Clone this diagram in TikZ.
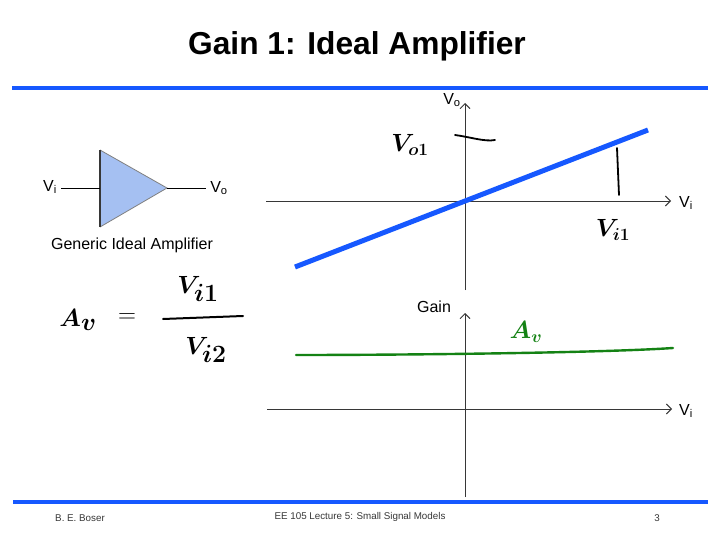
\documentclass[tikz,border=0pt]{standalone}
\usepackage{fontspec}
\setmainfont{Liberation Sans}
\usetikzlibrary{arrows.meta}
\definecolor{slideblue}{RGB}{22,88,255}
\definecolor{ampfill}{RGB}{165,192,242}
\definecolor{hgreen}{RGB}{20,130,20}
\definecolor{axisgray}{RGB}{55,55,55}
\begin{document}
\begin{tikzpicture}[x=1pt,y=-1pt,
  rule/.style={slideblue,line width=4pt},
  axis/.style={axisgray,line width=0.9pt,-{Straight Barb[length=5pt,width=10pt]}},
  lbl/.style={font=\fontsize{16}{19}\selectfont,inner sep=0pt},
  foot/.style={font=\fontsize{9.8}{12}\selectfont,inner sep=0pt,text=axisgray},
  hand/.style={font=\fontsize{24}{28}\selectfont\boldmath,inner sep=0pt},
  big/.style={font=\fontsize{36}{42}\selectfont\boldmath,inner sep=0pt},
  wire/.style={black,line width=0.9pt},
  stroke/.style={black,line width=1.8pt,line cap=round}]
\useasboundingbox[fill=white] (0,0) rectangle (720,540);
% title and rules
\node[font=\fontsize{31.7}{38}\selectfont\bfseries,inner sep=0pt] (title) at (357,46) {Gain 1: Ideal Amplifier};
\coordinate (tl) at (12,88); \coordinate (tr) at (708,88);
\draw[rule] (tl) -- (tr);
\coordinate (bl) at (13,502); \coordinate (br) at (708,502);
\draw[rule] (bl) -- (br);
% footer
\node[foot] (auth) at (80,518) {B. E. Boser};
\node[foot] (course) at (360,517) {EE 105 Lecture 5: Small Signal Models};
\node[foot] (page) at (657,518) {3};
% amplifier
\coordinate (a1) at (100,150); \coordinate (a2) at (100,227); \coordinate (a3) at (167,188);
\fill[ampfill] (a1) -- (a3) -- (a2) -- cycle;
\draw[gray,line width=0.8pt] (a1) -- (a3) -- (a2);
\draw[axisgray,line width=1.6pt] (a1) -- (a2);
\coordinate (in) at (61,188); \coordinate (ampin) at (100,188);
\coordinate (out) at (206,188);
\draw[wire] (in) -- (ampin);
\draw[wire] (a3) -- (out);
\node[lbl] (vi) at (50,187) {V\textsubscript{i}};
\node[lbl] (vo) at (219,188) {V\textsubscript{o}};
\node[lbl] (gen) at (132,245) {Generic Ideal Amplifier};
% equation
\node[big] (av) at (78,320) {$A_v$};
\node[font=\fontsize{34}{40}\selectfont,inner sep=0pt] (eqs) at (127,318) {$=$};
\node[big] (num) at (198,289) {$V_{i1}$};
\node[big] (den) at (206,350) {$V_{i2}$};
\coordinate (fb1) at (163,319); \coordinate (fb2) at (243,316);
\draw[black,line width=2pt,line cap=round] (fb1) -- (fb2);
% upper plot
\coordinate (xl1) at (266,201); \coordinate (xr1) at (671,201);
\coordinate (yb1) at (465,290); \coordinate (yt1) at (465,103);
\draw[axis] (xl1) -- (xr1);
\draw[axis] (yb1) -- (yt1);
\node[lbl] (vo1) at (452,100) {V\textsubscript{o}};
\node[lbl] (vi1) at (686,203) {V\textsubscript{i}};
\coordinate (bs) at (295,267); \coordinate (be) at (648,130);
\draw[slideblue,line width=5pt] (bs) -- (be);
\coordinate (t1s) at (455,135); \coordinate (t1e) at (495,140);
\draw[stroke] (t1s) .. controls (470,137) and (485,142) .. (t1e);
\coordinate (t2s) at (617,148); \coordinate (t2e) at (619,195);
\draw[stroke] (t2s) -- (t2e);
\node[hand] (hvo) at (410,145) {$V_{o1}$};
\node[hand] (hvi) at (613,230) {$V_{i1}$};
% lower plot
\coordinate (xl2) at (267,409); \coordinate (xr2) at (672,409);
\coordinate (yb2) at (465,497); \coordinate (yt2) at (465,313);
\draw[axis] (xl2) -- (xr2);
\draw[axis] (yb2) -- (yt2);
\node[lbl] (gain) at (434,307) {Gain};
\node[lbl] (vi2) at (686,411) {V\textsubscript{i}};
\coordinate (gs) at (296,355); \coordinate (ge) at (673,348);
\draw[hgreen,line width=2.4pt,line cap=round] (gs) .. controls (400,355) and (600,353) .. (ge);
\node[hand,text=hgreen] (hav) at (526,332) {$A_v$};
\end{tikzpicture}
\end{document}
